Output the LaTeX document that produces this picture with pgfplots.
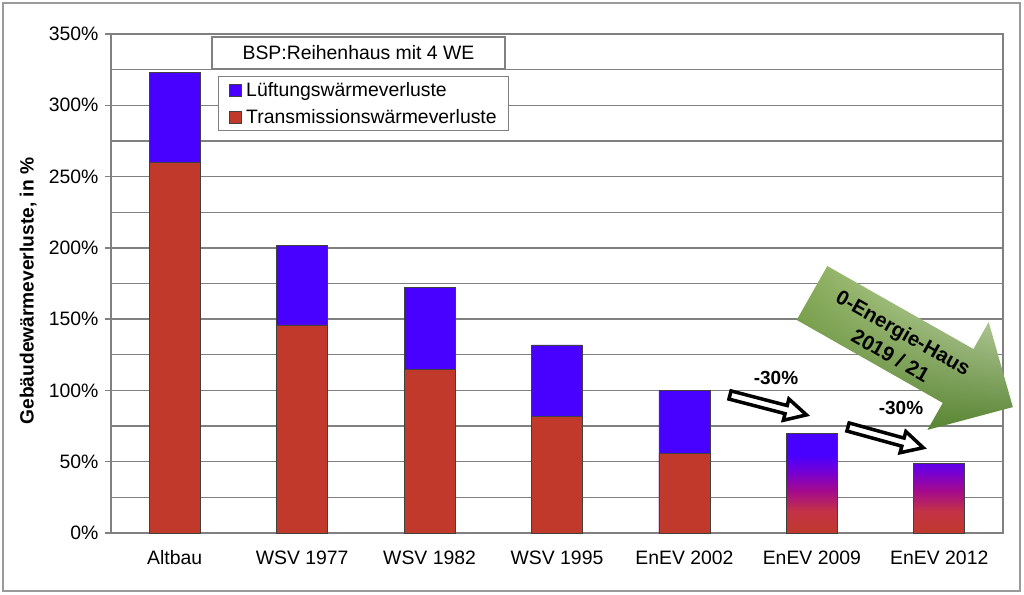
\documentclass[border=0pt]{standalone}
\usepackage{fontspec}
\setmainfont{Liberation Sans}
\usepackage{pgfplots}
\usepackage{pgfplotstable}
\usetikzlibrary{shadings}
\pgfplotsset{compat=1.18}
\definecolor{lblue}{RGB}{72,0,255}
\definecolor{tred}{RGB}{192,57,43}
\definecolor{magc}{RGB}{165,10,140}
\definecolor{purc}{RGB}{115,0,215}
\definecolor{pinkred}{RGB}{195,50,70}
\definecolor{gridgray}{RGB}{128,128,128}
\definecolor{gul}{RGB}{135,172,88}
\definecolor{gur}{RGB}{225,236,205}
\definecolor{gll}{RGB}{92,135,52}
\definecolor{glr}{RGB}{88,132,52}
\pgfdeclareverticalshading{enev}{100bp}{color(0bp)=(tred); color(25bp)=(tred); color(36bp)=(pinkred); color(46bp)=(magc); color(56bp)=(purc); color(64bp)=(lblue); color(100bp)=(lblue)}

\pgfplotstableread{
x trans lueft
0 260 63
1 146 56
2 115 57
3 82 50
4 56 44
}\mydata
\pgfplotstableread{
x total
5 70
6 49
}\enevdata

\begin{document}
\begin{tikzpicture}[x=1pt,y=1pt]
\useasboundingbox (0,0) rectangle (1024,594);
\draw[gridgray!80, line width=1.2pt] (3,3) rectangle (1020,591);
\begin{axis}[
  at={(111pt,61pt)}, anchor=south west, scale only axis,
  width=892pt, height=499pt,
  xmin=-0.5, xmax=6.5, ymin=0, ymax=350,
  xtick={0,...,6},
  xticklabels={Altbau,WSV 1977,WSV 1982,WSV 1995,EnEV 2002,EnEV 2009,EnEV 2012},
  ytick={0,50,...,350},
  yticklabels={0\%,50\%,100\%,150\%,200\%,250\%,300\%,350\%},
  minor ytick={25,75,...,325},
  ymajorgrids, yminorgrids,
  major grid style={gridgray, line width=1.3pt},
  minor grid style={gridgray, line width=1.3pt},
  axis line style={gridgray, line width=1.3pt},
  x tick style={draw=none},
  y tick style={gridgray, line width=1.3pt},
  major tick length=6pt, minor tick length=0pt,
  tick align=outside, ytick pos=left, xtick pos=bottom,
  ticklabel style={font=\fontsize{19.4}{22}\selectfont},
  yticklabel style={xshift=-3pt},
  xticklabel style={yshift=-8pt},
  ylabel={Gebäudewärmeverluste, in \%},
  ylabel style={font=\bfseries\fontsize{19.2}{22}\selectfont, at={(axis description cs:-0.093,0.485)}, anchor=center},
  legend style={at={(0.12,0.9158)}, anchor=north west, draw=gridgray, line width=1.2pt, fill=white,
    font=\fontsize{19.4}{22}\selectfont, row sep=7pt, column sep=3pt, inner xsep=10pt, inner ysep=4pt},
  legend cell align=left,
  legend image code/.code={\draw[#1, line width=0.6pt] (0pt,-6pt) rectangle (12pt,6pt);},
]
\addplot[ybar, bar width=51pt, bar shift=0pt, fill=lblue, draw=black!75, line width=0.6pt]
  table[x=x, y expr=\thisrow{trans}+\thisrow{lueft}] {\mydata};
\addlegendentry{Lüftungswärmeverluste}
\addplot[ybar, bar width=51pt, bar shift=0pt, fill=tred, draw=black!75, line width=0.6pt]
  table[x=x, y=trans] {\mydata};
\addlegendentry{Transmissionswärmeverluste}
\addplot[ybar, bar width=51pt, bar shift=0pt, shading=enev, draw=black!75, line width=0.6pt, forget plot]
  table[x=x, y=total] {\enevdata};
\end{axis}
% title box
\node[draw=gridgray, line width=1.2pt, fill=white, minimum width=293pt, minimum height=32pt, inner sep=0pt,
  font=\fontsize{19.4}{22}\selectfont] at (358.5,541) {BSP:Reihenhaus mit 4 WE};
% white arrows
\draw[line width=3.5pt, fill=white, line join=miter, shift={(730,199)}, rotate=-14.6]
  (0,4.2) -- (58,4.2) -- (58,11) -- (79,0) -- (58,-11) -- (58,-4.2) -- (0,-4.2) -- cycle;
\draw[line width=3.5pt, fill=white, line join=miter, shift={(848,167)}, rotate=-15.4]
  (0,4.2) -- (57,4.2) -- (57,11) -- (78,0) -- (57,-11) -- (57,-4.2) -- (0,-4.2) -- cycle;
\node[font=\bfseries\fontsize{19}{22}\selectfont] at (776,216) {-30\%};
\node[font=\bfseries\fontsize{19}{22}\selectfont] at (901,186) {-30\%};
% green arrow
\begin{scope}[shift={(812,301)}, rotate=-29.6]
\shade[upper left=gul, upper right=gur, lower left=gll, lower right=glr]
  (0,31) -- (168,31) -- (168,62) -- (231,0) -- (168,-62) -- (168,-31) -- (0,-31) -- cycle;
\end{scope}
\node[rotate=-29.6, align=center, font=\bfseries\fontsize{20.5}{26}\selectfont] at (897,250) {0-Energie-Haus\\2019 / 21};
\end{tikzpicture}
\end{document}
